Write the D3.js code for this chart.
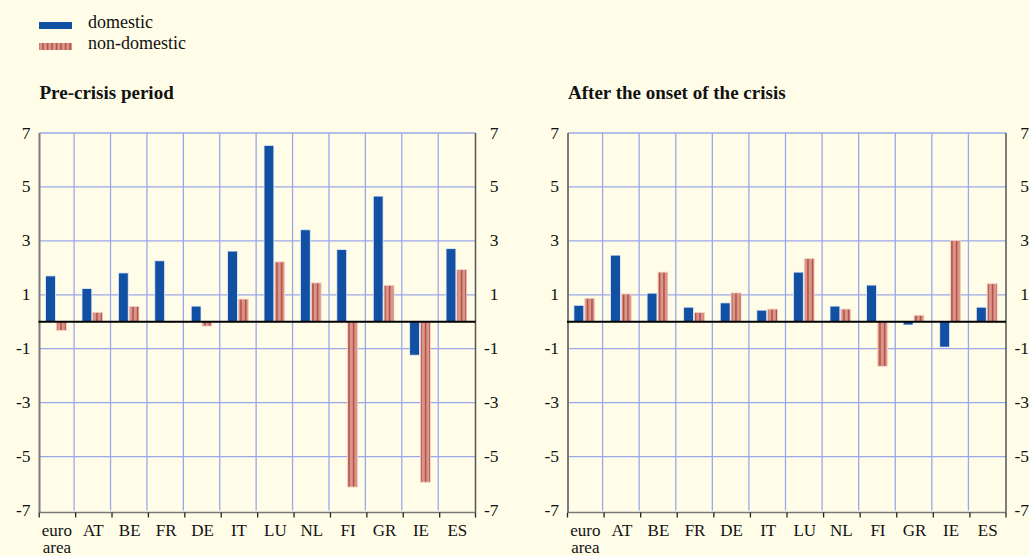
<!DOCTYPE html>
<html><head><meta charset="utf-8">
<script src="https://cdn.jsdelivr.net/npm/d3@7"></script>
<style>
html,body{margin:0;padding:0;background:#fffde8;}
svg{display:block;}
text{font-family:"Liberation Serif","Times New Roman",serif;fill:#111;}
</style></head>
<body>
<script>
const categories = ["euro area","AT","BE","FR","DE","IT","LU","NL","FI","GR","IE","ES"];
const preDomestic     = [1.70, 1.23, 1.81, 2.26, 0.58, 2.62, 6.54, 3.41, 2.68, 4.66, -1.24, 2.71];
const preNonDomestic  = [-0.32, 0.35, 0.57, -0.03, -0.16, 0.84, 2.22, 1.44, -6.13, 1.35, -5.95, 1.93];
const postDomestic    = [0.61, 2.47, 1.06, 0.54, 0.70, 0.43, 1.84, 0.58, 1.36, -0.12, -0.94, 0.54];
const postNonDomestic = [0.87, 1.03, 1.84, 0.34, 1.07, 0.47, 2.34, 0.47, -1.65, 0.24, 3.01, 1.41];
const yTicks = [7, 5, 3, 1, -1, -3, -5, -7];
const seriesNames = ["domestic", "non-domestic"];
const panelTitles = ["Pre-crisis period", "After the onset of the crisis"];

const W = 1029, H = 556;
const BLUE = "#1150a2", SALMON = "#d8978a", STRIPE = "#a8302a", GRID = "#9ba8e8";

const svg = d3.select("body").append("svg").attr("width", W).attr("height", H);
svg.append("rect").attr("width", W).attr("height", H).attr("fill", "#fffde8");

const defs = svg.append("defs");
const pat = defs.append("pattern").attr("id", "stripes").attr("patternUnits", "userSpaceOnUse")
  .attr("width", 4.5).attr("height", 10);
pat.append("rect").attr("width", 4.5).attr("height", 10).attr("fill", SALMON);
pat.append("rect").attr("x", 2).attr("width", 1.1).attr("height", 10).attr("fill", STRIPE);

// Legend
const legend = svg.append("g");
seriesNames.forEach((name, i) => {
  legend.append("rect").attr("x", 39).attr("y", 22 + i * 21).attr("width", 33).attr("height", 7)
    .attr("fill", i === 0 ? BLUE : "url(#stripes)");
  legend.append("text").attr("x", 88).attr("y", 28 + i * 21).attr("font-size", 18).text(name);
});

const y = d3.scaleLinear().domain([-7, 7]).range([510.5, 133]);

const panels = [
  {title: panelTitles[0], dom: preDomestic, non: preNonDomestic, range: [37.7, 474.6], axL: 39.5, axR: 475.5},
  {title: panelTitles[1], dom: postDomestic, non: postNonDomestic, range: [566, 1005], axL: 568, axR: 1006}
];

panels.forEach(p => {
  const g = svg.append("g");
  const x = d3.scaleBand().domain(categories).range(p.range).paddingInner(0).paddingOuter(0);
  const bw = x.bandwidth();

  g.append("text").attr("x", p.axL).attr("y", 99).attr("font-size", 19).attr("font-weight", "bold").text(p.title);

  // horizontal grid
  g.selectAll(".hg").data(yTicks.filter(t => t !== -7)).enter().append("line")
    .attr("x1", p.axL).attr("x2", p.axR).attr("y1", d => y(d)).attr("y2", d => y(d))
    .attr("stroke", GRID).attr("stroke-width", 1.3);
  // vertical grid
  g.selectAll(".vg").data(categories.slice(1)).enter().append("line")
    .attr("x1", d => x(d)).attr("x2", d => x(d)).attr("y1", y(7)).attr("y2", y(-7))
    .attr("stroke", GRID).attr("stroke-width", 1.3);

  // y tick labels
  g.selectAll(".yl").data(yTicks).enter().append("text")
    .attr("x", p.axL - 9).attr("y", d => y(d) + 5.5).attr("text-anchor", "end").attr("font-size", 17.5).text(d => d);
  g.selectAll(".yr").data(yTicks).enter().append("text")
    .attr("x", p.axR + 23).attr("y", d => y(d) + 5.5).attr("text-anchor", "end").attr("font-size", 17.5).text(d => d);

  // axes
  g.append("line").attr("x1", p.axL).attr("x2", p.axL).attr("y1", y(7)).attr("y2", y(-7) + 2)
    .attr("stroke", "#7a7a7a").attr("stroke-width", 2);
  g.append("line").attr("x1", p.axR).attr("x2", p.axR).attr("y1", y(7)).attr("y2", y(-7) + 2)
    .attr("stroke", "#555").attr("stroke-width", 1.5);
  g.append("line").attr("x1", p.axL).attr("x2", p.axR).attr("y1", y(-7) + 2).attr("y2", y(-7) + 2)
    .attr("stroke", "#777").attr("stroke-width", 1.5);
  g.selectAll(".xt").data(categories).enter().append("line")
    .attr("x1", d => x(d) + 1.5).attr("x2", d => x(d) + 1.5).attr("y1", y(-7) + 2).attr("y2", y(-7) + 7)
    .attr("stroke", "#222").attr("stroke-width", 1.3);
  g.append("line").attr("x1", p.axR).attr("x2", p.axR).attr("y1", y(-7) + 2).attr("y2", y(-7) + 7)
    .attr("stroke", "#222").attr("stroke-width", 1.3);

  const w = bw * 0.27;
  // domestic bars
  g.selectAll(".bd").data(categories).enter().append("rect")
    .attr("x", d => x(d) + bw / 2 - 0.5 - w)
    .attr("y", (d, i) => Math.min(y(p.dom[i]), y(0)))
    .attr("width", w)
    .attr("height", (d, i) => Math.abs(y(p.dom[i]) - y(0)))
    .attr("fill", BLUE).attr("stroke", "#e8eefa").attr("stroke-width", 0.8);
  // non-domestic bars
  g.selectAll(".bn").data(categories).enter().append("rect")
    .attr("x", d => x(d) + bw / 2 + 0.5)
    .attr("y", (d, i) => Math.min(y(p.non[i]), y(0)))
    .attr("width", w)
    .attr("height", (d, i) => Math.abs(y(p.non[i]) - y(0)))
    .attr("fill", "url(#stripes)").attr("stroke", "#f3d2c8").attr("stroke-width", 0.8);

  // zero line
  g.append("line").attr("x1", p.axL - 1).attr("x2", p.axR).attr("y1", y(0)).attr("y2", y(0))
    .attr("stroke", "#000").attr("stroke-width", 2);

  // category labels
  g.selectAll(".xl").data(categories).enter().append("text")
    .attr("x", d => x(d) + bw / 2 + 1).attr("y", 535.5).attr("text-anchor", "middle").attr("font-size", 17)
    .each(function(d) {
      const parts = d.split(" ");
      d3.select(this).selectAll("tspan").data(parts).enter().append("tspan")
        .attr("x", x(d) + bw / 2 + 1).attr("dy", (s, j) => j === 0 ? 0 : 17.5).text(s => s);
    });
});
</script>
</body></html>
